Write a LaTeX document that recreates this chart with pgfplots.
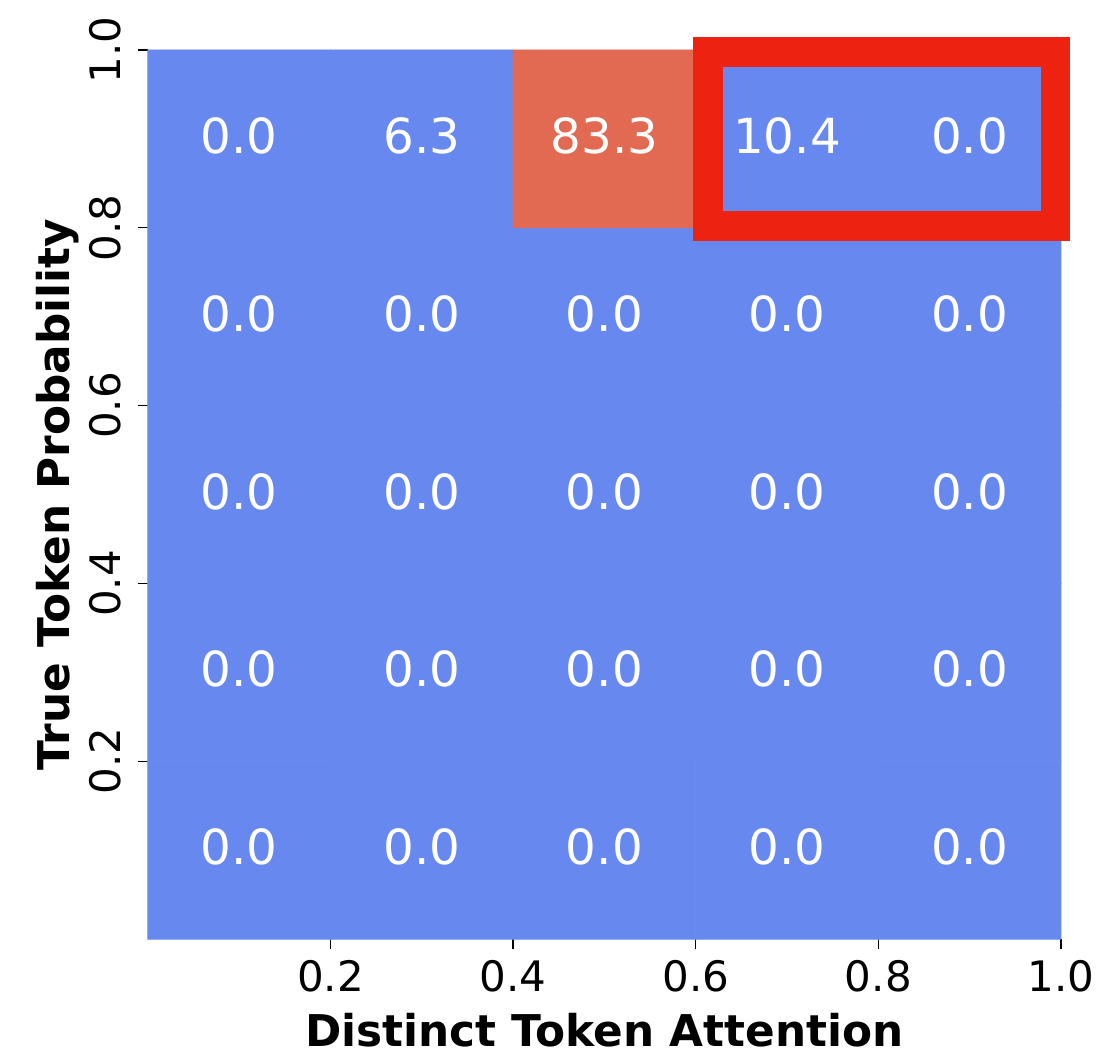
\documentclass[border=0pt]{standalone}
\usepackage{fontspec}
\setmainfont{DejaVu Sans}
\usepackage{pgfplots}
\pgfplotsset{compat=1.18}
\definecolor{cblue}{RGB}{103,136,238}
\definecolor{cred}{RGB}{226,106,83}
\definecolor{boxred}{RGB}{238,34,17}
\pgfplotstableread{
x y v t
0.1 0.1 0 0.0
0.3 0.1 0 0.0
0.5 0.1 0 0.0
0.7 0.1 0 0.0
0.9 0.1 0 0.0
0.1 0.3 0 0.0
0.3 0.3 0 0.0
0.5 0.3 0 0.0
0.7 0.3 0 0.0
0.9 0.3 0 0.0
0.1 0.5 0 0.0
0.3 0.5 0 0.0
0.5 0.5 0 0.0
0.7 0.5 0 0.0
0.9 0.5 0 0.0
0.1 0.7 0 0.0
0.3 0.7 0 0.0
0.5 0.7 0 0.0
0.7 0.7 0 0.0
0.9 0.7 0 0.0
0.1 0.9 0 0.0
0.3 0.9 6.3 6.3
0.5 0.9 83.3 83.3
0.7 0.9 10.4 10.4
0.9 0.9 0 0.0
}\heat
\begin{document}
\begin{tikzpicture}
\begin{axis}[
  scale only axis, width=457pt, height=445pt,
  xmin=0, xmax=1, ymin=0, ymax=1,
  clip=false,
  axis line style={draw=none},
  xtick={0.2,0.4,0.6,0.8,1.0}, ytick={0.2,0.4,0.6,0.8,1.0},
  xticklabels={0.2,0.4,0.6,0.8,1.0}, yticklabels={0.2,0.4,0.6,0.8,1.0},
  tick align=outside, major tick length=5pt,
  tick style={black, line width=0.6pt},
  xtick pos=bottom, ytick pos=left,
  xticklabel style={font=\fontsize{21}{25}\selectfont, yshift=-2pt},
  yticklabel style={font=\fontsize{21}{25}\selectfont, rotate=90, anchor=south, yshift=5pt},
  label style={font=\fontsize{21.9}{26}\selectfont\bfseries},
  xlabel style={yshift=-4pt},
  ylabel style={yshift=-2pt},
  xlabel={Distinct Token Attention},
  ylabel={True Token Probability},
  colormap={hm}{rgb255(0cm)=(103,136,238) rgb255(2cm)=(103,136,238) rgb255(8cm)=(226,106,83)},
  point meta min=0, point meta max=80,
]
\path (axis cs:-0.1619,-0.1303) rectangle (axis cs:1.0427,1.0562);
\addplot[matrix plot*, mesh/cols=5, point meta=explicit] table[x=x, y=y, meta=v] {\heat};
\addplot[draw=none, mark=none, point meta=explicit symbolic, nodes near coords,
  nodes near coords align=center,
  every node near coord/.style={font=\fontsize{24.2}{29}\selectfont, text=white, anchor=center, yshift=1.5pt}]
  table[x=x, y=y, meta=t] {\heat};
\addplot[draw=boxred, line width=15pt, line join=miter, mark=none]
  coordinates {(0.613,0.802) (0.994,0.802) (0.994,0.998) (0.613,0.998)} -- cycle;
\end{axis}
\end{tikzpicture}
\end{document}
